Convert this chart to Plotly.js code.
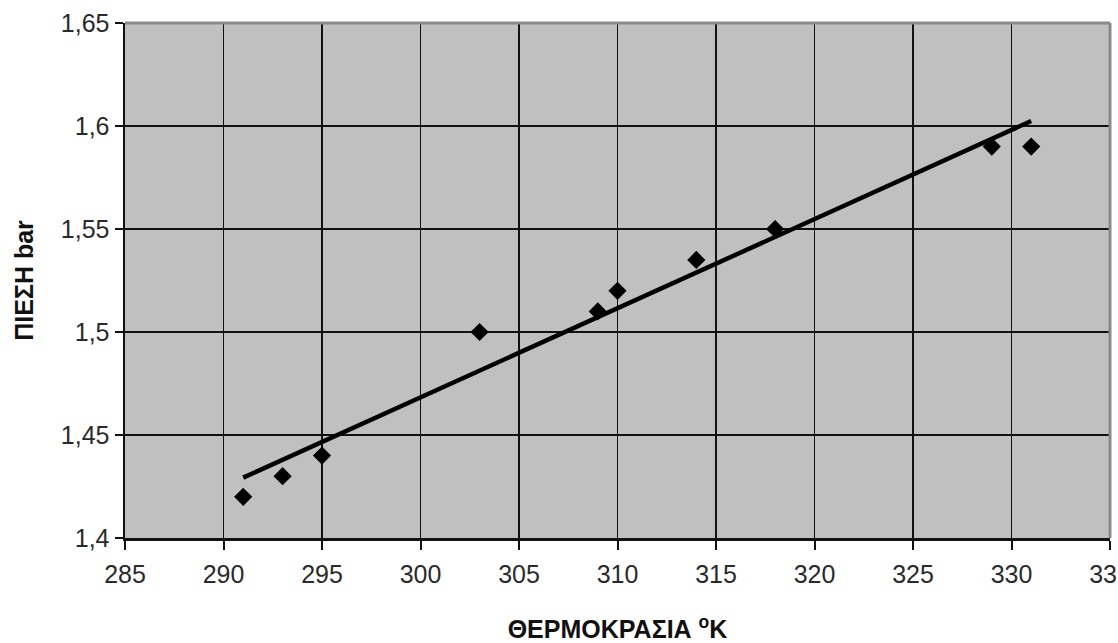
<!DOCTYPE html>
<html>
<head>
<meta charset="utf-8">
<script src="https://cdn.plot.ly/plotly-3.0.1.min.js"></script>
<style>html,body{margin:0;padding:0;background:#fff;}#chart{width:1118px;height:643px;}</style>
</head>
<body>
<div id="chart"></div>
<script>
// Data
const temperatureK = [291, 293, 295, 303, 309, 310, 314, 318, 329, 331];
const pressureBar  = [1.42, 1.43, 1.44, 1.50, 1.51, 1.52, 1.535, 1.55, 1.59, 1.59];

const xTickVals = [285, 290, 295, 300, 305, 310, 315, 320, 325, 330, 335];
const xTickText = ['285', '290', '295', '300', '305', '310', '315', '320', '325', '330', '335'];
const yTickVals = [1.4, 1.45, 1.5, 1.55, 1.6, 1.65];
const yTickText = ['1,4', '1,45', '1,5', '1,55', '1,6', '1,65'];

const xTitle = 'ΘΕΡΜΟΚΡΑΣΙΑ <sup>o</sup>K';
const yTitle = 'ΠΙΕΣΗ bar';

// Linear trend line (least squares) from the data
const n = temperatureK.length;
const mx = temperatureK.reduce((a, b) => a + b, 0) / n;
const my = pressureBar.reduce((a, b) => a + b, 0) / n;
let sxy = 0, sxx = 0;
for (let i = 0; i < n; i++) {
  sxy += (temperatureK[i] - mx) * (pressureBar[i] - my);
  sxx += (temperatureK[i] - mx) ** 2;
}
const slope = sxy / sxx;
const intercept = my - slope * mx;
const trendX = [Math.min(...temperatureK), Math.max(...temperatureK)];
const trendY = trendX.map(x => intercept + slope * x);

const traces = [
  {
    x: trendX, y: trendY, type: 'scatter', mode: 'lines',
    line: {color: '#000', width: 4.5}, hoverinfo: 'skip', showlegend: false
  },
  {
    x: temperatureK, y: pressureBar, type: 'scatter', mode: 'markers',
    marker: {symbol: 'diamond', size: 14, color: '#000'}, showlegend: false
  }
];

const layout = {
  width: 1118, height: 643,
  margin: {l: 125, r: 8, t: 23, b: 105},
  paper_bgcolor: '#ffffff',
  plot_bgcolor: '#c0c0c0',
  font: {family: '"Liberation Sans", Arial, sans-serif', color: '#222'},
  showlegend: false,
  xaxis: {
    range: [285, 335], tickvals: xTickVals, ticktext: xTickText,
    showgrid: true, gridcolor: '#111', gridwidth: 1.6,
    showline: true, linecolor: '#111', linewidth: 2.5,
    ticks: 'outside', ticklen: 9, tickwidth: 2, tickcolor: '#111',
    tickfont: {size: 25, color: '#2a2a2a'},
    ticklabelstandoff: 3,
    ticklabeloverflow: 'allow',
    zeroline: false, fixedrange: true,
    title: {text: xTitle, font: {size: 25, color: '#111', family: '"Liberation Sans", Arial, sans-serif', weight: 'bold'}, standoff: 38}
  },
  yaxis: {
    range: [1.4, 1.65], tickvals: yTickVals, ticktext: yTickText,
    showgrid: true, gridcolor: '#111', gridwidth: 1.6,
    showline: true, linecolor: '#111', linewidth: 2.5,
    ticks: 'outside', ticklen: 8, tickwidth: 2, tickcolor: '#111',
    tickfont: {size: 25, color: '#2a2a2a'},
    zeroline: false, fixedrange: true,
    title: {text: yTitle, font: {size: 25, color: '#111', family: '"Liberation Sans", Arial, sans-serif', weight: 'bold'}, standoff: 20}
  },
  shapes: [
    {type: 'line', xref: 'paper', yref: 'paper', x0: 0, x1: 1, y0: 1, y1: 1, line: {color: '#8a8a8a', width: 3}, layer: 'above'},
    {type: 'line', xref: 'paper', yref: 'paper', x0: 1, x1: 1, y0: 0, y1: 1, line: {color: '#8a8a8a', width: 3}, layer: 'above'}
  ]
};

Plotly.newPlot('chart', traces, layout, {displayModeBar: false, staticPlot: true});
</script>
</body>
</html>
